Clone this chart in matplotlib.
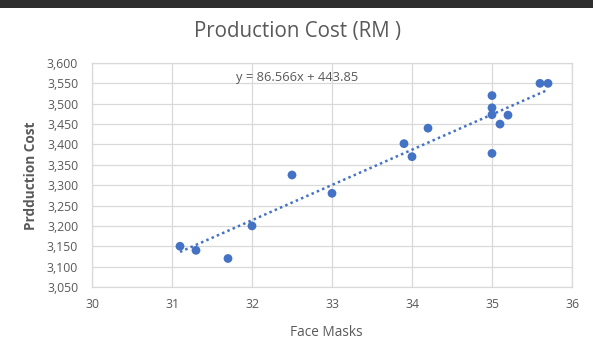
import matplotlib
matplotlib.use("Agg")
import matplotlib.pyplot as plt
import numpy as np
from matplotlib.patches import Rectangle

face_masks = [31.1, 31.3, 31.7, 32.0, 32.5, 33.0, 33.9, 34.0, 34.2,
              35.0, 35.0, 35.0, 35.0, 35.1, 35.2, 35.6, 35.7]
production_cost = [3150, 3140, 3120, 3200, 3325, 3280, 3402, 3370, 3440,
                   3520, 3490, 3473, 3378, 3450, 3472, 3550, 3550]
trend_slope = 86.566
trend_intercept = 443.85
x_ticks = [30, 31, 32, 33, 34, 35, 36]
y_ticks = list(range(3050, 3601, 50))

plt.rcParams['font.family'] = ['Open Sans', 'DejaVu Sans']

fig = plt.figure(figsize=(5.93, 3.53), dpi=100)
fig.patch.set_facecolor('white')
fig.add_artist(Rectangle((0, 1 - 8/353), 1, 8/353, transform=fig.transFigure,
                         facecolor='#2e2e2e', edgecolor='none'))

ax = fig.add_axes([92/593, 1 - 287/353, (572-92)/593, (287-63)/353])
ax.set_xlim(30, 36)
ax.set_ylim(3050, 3600)
ax.set_xticks(x_ticks)
ax.set_yticks(y_ticks)
ax.set_yticklabels([f"{v:,}" for v in y_ticks])
ax.grid(True, color='#d9d9d9', linewidth=0.9)
ax.set_axisbelow(True)
for s in ax.spines.values():
    s.set_color('#d9d9d9')
    s.set_linewidth(0.9)
ax.tick_params(length=0, colors='#595959', labelsize=8.8)
ax.tick_params(axis='y', pad=10)
ax.tick_params(axis='x', pad=8)

xs = np.array([min(face_masks), max(face_masks)])
ax.plot(xs, trend_slope * xs + trend_intercept, linestyle=(0, (1, 1.3)),
        color='#4472c4', linewidth=1.8)
ax.scatter(face_masks, production_cost, s=40, color='#4472c4', zorder=3,
           edgecolors='none')

ax.text(297/593, 1 - 77/353, "y = 86.566x + 443.85", transform=fig.transFigure,
        ha='center', va='center', fontsize=9.3, color='#595959')

fig.text(297/593, 1 - 31/353, "Production Cost (RM )", ha='center', va='center',
         fontsize=14.8, color='#595959')
fig.text(326/593, 1 - 332/353, "Face Masks", ha='center', va='center',
         fontsize=9.8, color='#595959')
fig.text(31/593, 1 - 176/353, "Prdduction Cost", rotation=90, ha='center',
         va='center', fontsize=9.8, color='#595959', fontweight='bold')

fig.savefig("out.png", dpi=100)
